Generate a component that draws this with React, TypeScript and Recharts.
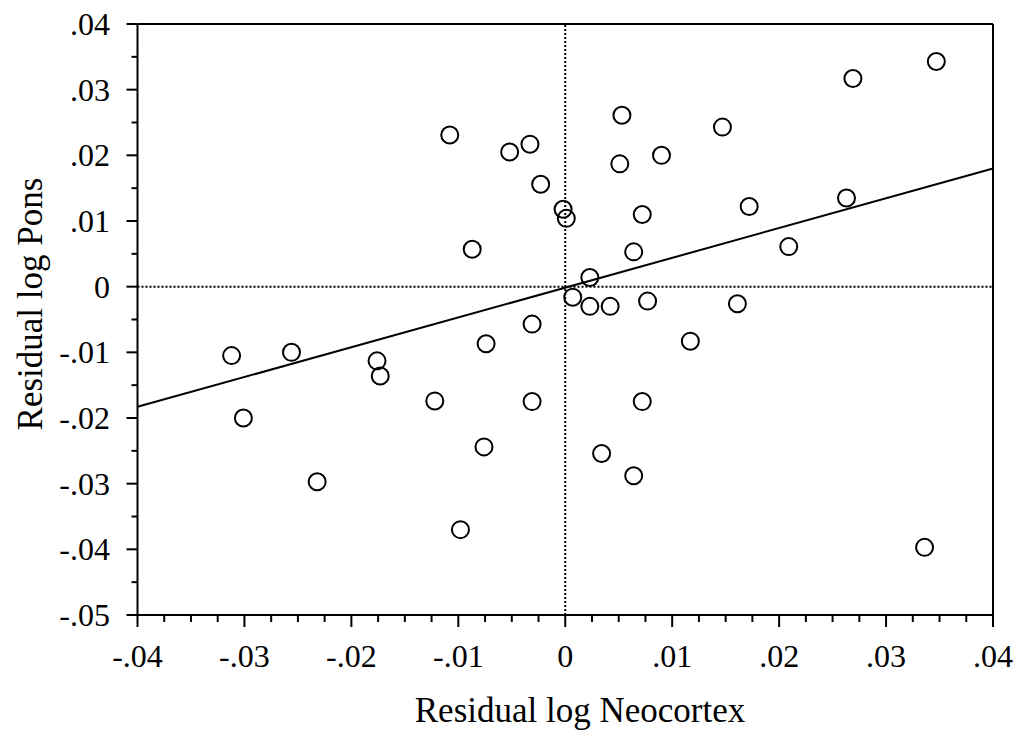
import { ScatterChart, Scatter, XAxis, YAxis, ReferenceLine, Label } from 'recharts'

// residual log neocortex (x) vs residual log pons (y)
const NEOCORTEX = [
  -0.0312, -0.0256, -0.0301, -0.0176, -0.0173, -0.0232, -0.0122, -0.0074, -0.0031, -0.0031,
  -0.0076, -0.0098, -0.0108, -0.0052, -0.0033, -0.0023, -0.0002, 0.0001, -0.0087, 0.0347,
  0.0269, 0.0053, 0.0147, 0.0051, 0.009, 0.0072, 0.0172, 0.0263, 0.0064, 0.0209,
  0.0023, 0.0007, 0.0023, 0.0042, 0.0077, 0.0161, 0.0117, 0.0072, 0.0034, 0.0064,
  0.0336,
]
const PONS = [
  -0.0105, -0.01, -0.02, -0.0113, -0.0136, -0.0297, -0.0174, -0.0087, -0.0057, -0.0175,
  -0.0244, -0.037, 0.0231, 0.0205, 0.0217, 0.0156, 0.0118, 0.0104, 0.0057, 0.0343,
  0.0317, 0.0261, 0.0243, 0.0187, 0.02, 0.011, 0.0122, 0.0135, 0.0053, 0.0061,
  0.0014, -0.0016, -0.003, -0.003, -0.0022, -0.0026, -0.0083, -0.0175, -0.0254, -0.0288,
  -0.0397,
]

// regression line end points
const FIT_X = [-0.04, 0.04]
const FIT_Y = [-0.0183, 0.018]

const X_TICKS = [-0.04, -0.03, -0.02, -0.01, 0, 0.01, 0.02, 0.03, 0.04]
const Y_TICKS = [0.04, 0.03, 0.02, 0.01, 0, -0.01, -0.02, -0.03, -0.04, -0.05]

const FONT = '"Liberation Serif", "Times New Roman", serif'

const points = NEOCORTEX.map((x, i) => ({ x, y: PONS[i] }))

// minor ticks: x every .0025, y every .005
const xAll: number[] = []
for (let i = 0; i <= 32; i++) xAll.push(Math.round((-0.04 + i * 0.0025) * 10000) / 10000)
const yAll: number[] = []
for (let i = 0; i <= 18; i++) yAll.push(Math.round((-0.05 + i * 0.005) * 10000) / 10000)

const isMajor = (v: number, majors: number[]) => majors.some((m) => Math.abs(m - v) < 1e-6)

const fmt = (v: number) => {
  if (Math.abs(v) < 1e-9) return '0'
  const s = Math.abs(v).toFixed(2).replace(/^0/, '')
  return v < 0 ? '-' + s : s
}

function XTick(props: any) {
  const { x, y, payload } = props
  const major = isMajor(payload.value, X_TICKS)
  return (
    <g>
      <line x1={x} x2={x} y1={y} y2={y + (major ? 12 : 7)} stroke="#000" strokeWidth={2} />
      {major && (
        <text x={x} y={y + 52} textAnchor="middle" fontSize={32} fontFamily={FONT} fill="#000">
          {fmt(payload.value)}
        </text>
      )}
    </g>
  )
}

function YTick(props: any) {
  const { x, y, payload } = props
  const major = isMajor(payload.value, Y_TICKS)
  return (
    <g>
      <line x1={x} x2={x - (major ? 11 : 6)} y1={y} y2={y} stroke="#000" strokeWidth={2} />
      {major && (
        <text x={x - 27.5} y={y} dy="0.34em" textAnchor="end" fontSize={32} fontFamily={FONT} fill="#000">
          {fmt(payload.value)}
        </text>
      )}
    </g>
  )
}

const Ring = (props: any) => {
  const { cx, cy } = props
  return <circle cx={cx} cy={cy} r={8.5} fill="none" stroke="#000" strokeWidth={2} />
}

export default function App() {
  return (
    <div style={{ position: 'absolute', left: 0, top: 0, background: '#fff' }}>
      <ScatterChart width={1025} height={733} margin={{ top: 24, right: 32, bottom: 58, left: 57.5 }}>
        <XAxis
          type="number"
          dataKey="x"
          domain={[-0.04, 0.04]}
          ticks={xAll}
          interval={0}
          allowDataOverflow
          height={60}
          tickSize={0}
          tickMargin={0}
          tickLine={false}
          tick={<XTick />}
          axisLine={{ stroke: '#000', strokeWidth: 2 }}
        >
          <Label
            content={() => (
              <text x={580} y={722} textAnchor="middle" fontSize={35} fontFamily={FONT} fill="#000">
                Residual log Neocortex
              </text>
            )}
          />
        </XAxis>
        <YAxis
          type="number"
          dataKey="y"
          domain={[-0.05, 0.04]}
          ticks={yAll}
          interval={0}
          allowDataOverflow
          width={80}
          tickSize={0}
          tickMargin={0}
          tickLine={false}
          tick={<YTick />}
          axisLine={{ stroke: '#000', strokeWidth: 2 }}
        >
          <Label
            content={() => (
              <text
                x={30}
                y={304}
                transform="rotate(-90 30 304)"
                textAnchor="middle"
                dominantBaseline="central"
                fontSize={35}
                fontFamily={FONT}
                fill="#000"
              >
                Residual log Pons
              </text>
            )}
          />
        </YAxis>
        <ReferenceLine y={0.04} stroke="#000" strokeWidth={2} />
        <ReferenceLine x={0.04} stroke="#000" strokeWidth={2} />
        <ReferenceLine y={0} stroke="#000" strokeWidth={2} strokeDasharray="2 2" />
        <ReferenceLine x={0} stroke="#000" strokeWidth={2} strokeDasharray="2 2" />
        <ReferenceLine
          segment={[
            { x: FIT_X[0], y: FIT_Y[0] },
            { x: FIT_X[1], y: FIT_Y[1] },
          ]}
          stroke="#000"
          strokeWidth={2}
        />
        <Scatter data={points} shape={<Ring />} isAnimationActive={false} />
      </ScatterChart>
    </div>
  )
}
